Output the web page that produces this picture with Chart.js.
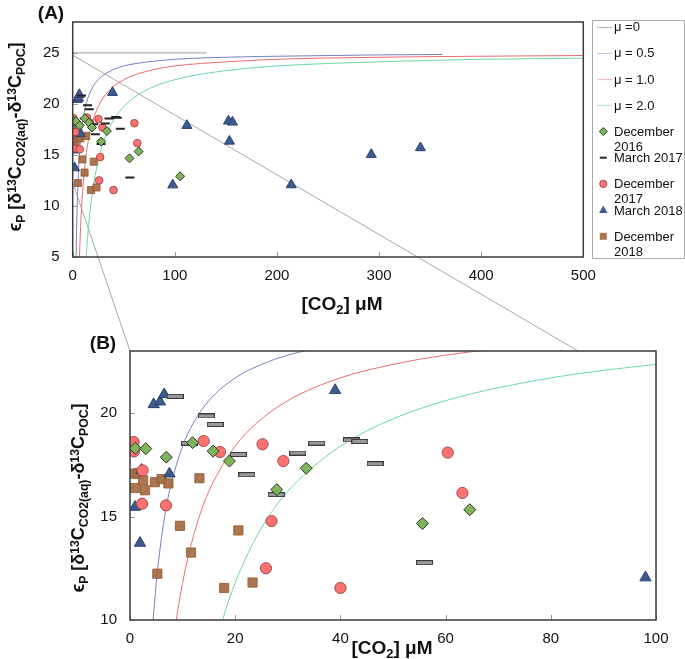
<!DOCTYPE html>
<html>
<head>
<meta charset="utf-8">
<script src="https://cdn.jsdelivr.net/npm/chart.js@4.4.0/dist/chart.umd.min.js"></script>
<style>
body { margin: 0; background: #fff; font-family: "Liberation Sans", Arial, sans-serif; }
#wrap { position: relative; width: 685px; height: 659px; overflow: hidden; }
#overlay { position: absolute; left: 0; top: 0; z-index: 0; }
#chartA { position: absolute; left: 0; top: 0; z-index: 1; }
#chartB { position: absolute; left: 0; top: 320px; z-index: 1; }
.lbl { position: absolute; z-index: 4; font-weight: bold; color: #111; white-space: nowrap; font-size: 19px; line-height: 19px; transform: translate(-50%, -50%); }
.ytitle { transform: translate(-50%, -50%) rotate(-90deg); font-size: 18px; }
.lbl sub, .lbl sup { font-size: 0.68em; line-height: 0; position: relative; vertical-align: baseline; }
.lbl sub { top: 0.3em; }
.lbl sup { top: -0.45em; }
#legend { position: absolute; left: 592px; top: 20px; width: 91px; height: 237px; border: 1px solid #aaa; background: #fff; z-index: 2; }
#legendmarks { position: absolute; left: 0; top: 0; z-index: 3; }
.legtext { position: absolute; left: 614px; width: 72px; font-size: 13px; line-height: 15px; color: #111; z-index: 3; }
</style>
</head>
<body>
<div id="wrap">
  <canvas id="overlay" width="685" height="659"></canvas>
  <canvas id="chartA" width="600" height="287"></canvas>
  <canvas id="chartB" width="670" height="330"></canvas>
  <div id="legend"></div>
  <canvas id="legendmarks" width="685" height="270"></canvas>
  <div class="lbl" style="left:51px; top:12px;">(A)</div>
  <div class="lbl" style="left:103px; top:342px;">(B)</div>
  <div class="lbl" style="left:342px; top:303px;">[CO<sub>2</sub>] μM</div>
  <div class="lbl" style="left:392px; top:647px;">[CO<sub>2</sub>] μM</div>
  <div class="lbl ytitle" style="left:15px; top:137px;">ϵ<sub>P</sub> [δ<sup>13</sup>C<sub>CO2(aq)</sub>-δ<sup>13</sup>C<sub>POC</sub>]</div>
  <div class="lbl ytitle" style="left:78px; top:498px;">ϵ<sub>P</sub> [δ<sup>13</sup>C<sub>CO2(aq)</sub>-δ<sup>13</sup>C<sub>POC</sub>]</div>
</div>
<script>
// model curves
const mu0_x = [0, 131];
const mu0_y = [25, 25];
const mu05_x = [3.3, 3.5, 4, 4.4, 5, 6, 7, 8, 10, 12, 15, 20, 25, 30, 40, 50, 70, 100, 150, 200, 300, 362];
const mu05_y = [5.0, 6.1, 8.5, 10.0, 11.8, 14.0, 15.6, 16.75, 18.4, 19.5, 20.6, 21.7, 22.35, 22.8, 23.35, 23.7, 24.05, 24.35, 24.55, 24.65, 24.78, 24.82];
const mu1_x = [6.6, 7, 8, 8.8, 10, 12, 14, 16, 20, 24, 30, 40, 50, 60, 80, 100, 150, 200, 300, 400, 500];
const mu1_y = [5.0, 6.1, 8.5, 10.0, 11.8, 14.0, 15.6, 16.75, 18.4, 19.5, 20.6, 21.7, 22.35, 22.8, 23.35, 23.7, 24.1, 24.35, 24.55, 24.65, 24.72];
const mu2_x = [13.2, 14, 16, 17.6, 20, 24, 28, 32, 40, 48, 60, 80, 100, 120, 160, 200, 300, 400, 500];
const mu2_y = [5.0, 6.1, 8.5, 10.0, 11.8, 14.0, 15.6, 16.75, 18.4, 19.5, 20.6, 21.7, 22.35, 22.8, 23.35, 23.7, 24.1, 24.35, 24.45];

// observations
const dec2016_x = [1.0, 3.0, 6.9, 11.9, 15.8, 18.9, 27.9, 33.5, 55.6, 64.6, 105.2];
const dec2016_y = [18.3, 18.28, 17.87, 18.57, 18.16, 17.68, 16.3, 17.33, 14.66, 15.33, 12.9];
const mar2017_x = [8.6, 14.5, 16.2, 11.3, 20.6, 22.2, 27.8, 31.9, 35.5, 42.1, 43.7, 46.6, 56.0];
const mar2017_y = [20.81, 19.86, 19.45, 18.55, 18.0, 17.02, 16.06, 18.07, 18.55, 18.7, 18.63, 17.55, 12.77];
const dec2017_x = [0.7, 0.75, 2.4, 2.3, 6.84, 14.0, 17.1, 25.2, 29.15, 26.9, 25.85, 40.0, 60.4, 63.2];
const dec2017_y = [18.6, 18.15, 17.23, 15.62, 15.54, 18.65, 18.12, 18.49, 17.68, 14.78, 12.5, 11.55, 18.09, 16.14];
const mar2018_x = [4.5, 5.7, 6.5, 2.2, 7.5, 0.95, 1.9, 39.0, 98.0, 111.8, 152.5, 153.5, 156.5, 214, 292.4, 340.5];
const mar2018_y = [20.42, 20.55, 20.9, 17.25, 17.07, 15.46, 13.72, 21.1, 12.05, 17.87, 18.3, 16.33, 18.2, 12.06, 15.03, 15.69];
const dec2018_x = [0.7, 1.5, 1.0, 2.5, 2.85, 4.75, 6.0, 7.3, 13.2, 9.5, 5.2, 11.6, 17.9, 20.6, 23.3];
const dec2018_y = [17.07, 17.1, 16.38, 16.75, 16.27, 16.66, 16.81, 16.6, 16.85, 14.55, 12.24, 13.26, 11.55, 14.33, 11.81];

const legend_labels = ['μ =0', 'μ = 0.5', 'μ = 1.0', 'μ = 2.0', 'December 2016', 'March 2017', 'December 2017', 'March 2018', 'December 2018'];

// zoom connector: [x in A, y in A, x in B, y in B]
const zoomlines = [[0, 24.75, 85.2, 23], [0, 12.3, 0, 23]];

const fontfam = '"Liberation Sans", Arial, sans-serif';

function pts(xs, ys) {
    return xs.map((x, i) => ({ x: x, y: ys[i] }));
}

function dashimage(w, h) {
    let c = document.createElement('canvas');
    c.width = w;
    c.height = h;
    let ctx = c.getContext('2d');
    ctx.fillStyle = '#9a9a9a';
    ctx.fillRect(0, 0, w, h);
    ctx.strokeStyle = '#3a3a3a';
    ctx.lineWidth = 1;
    ctx.strokeRect(0.5, 0.5, w - 1, h - 1);
    return c;
}

const frameplugin = {
    id: 'frame',
    afterDraw(chart) {
        const ctx = chart.ctx;
        const a = chart.chartArea;
        const sx = chart.scales.x, sy = chart.scales.y;
        ctx.save();
        ctx.strokeStyle = '#999';
        ctx.lineWidth = 1;
        sx.ticks.forEach(t => {
            let px = Math.round(sx.getPixelForValue(t.value)) + 0.5;
            ctx.beginPath();
            ctx.moveTo(px, a.bottom);
            ctx.lineTo(px, a.bottom - 5);
            ctx.stroke();
        });
        sy.ticks.forEach(t => {
            let py = Math.round(sy.getPixelForValue(t.value)) + 0.5;
            ctx.beginPath();
            ctx.moveTo(a.left, py);
            ctx.lineTo(a.left + 5, py);
            ctx.stroke();
        });
        ctx.strokeStyle = '#3a3a3a';
        ctx.lineWidth = 1.5;
        ctx.strokeRect(a.left, a.top, a.right - a.left, a.bottom - a.top);
        ctx.restore();
    }
};

function makechart(id, cfg) {
    const curve = { showLine: true, pointRadius: 0, borderWidth: 1, cubicInterpolationMode: 'monotone', order: 10 };
    const datasets = [
        Object.assign({}, curve, { label: legend_labels[0], data: pts(mu0_x, mu0_y), borderColor: '#c8c8c8', borderWidth: 2 }),
        Object.assign({}, curve, { label: legend_labels[1], data: pts(mu05_x, mu05_y), borderColor: '#7180c0' }),
        Object.assign({}, curve, { label: legend_labels[2], data: pts(mu1_x, mu1_y), borderColor: '#e96c6c' }),
        Object.assign({}, curve, { label: legend_labels[3], data: pts(mu2_x, mu2_y), borderColor: '#6cd8a2' }),
        {
            label: legend_labels[4], data: pts(dec2016_x, dec2016_y), pointStyle: 'rectRot',
            pointRadius: cfg.diamond, backgroundColor: '#80b45c', borderColor: '#2e3a24', borderWidth: 1, order: 1
        },
        {
            label: legend_labels[5], data: pts(mar2017_x, mar2017_y), pointStyle: cfg.dash,
            pointRadius: 4.5, backgroundColor: '#222', borderColor: '#222', borderWidth: 2, order: 2
        },
        {
            label: legend_labels[6], data: pts(dec2017_x, dec2017_y), pointStyle: 'circle',
            pointRadius: cfg.circle, backgroundColor: '#ff7272', borderColor: '#a14a4a', borderWidth: 1, order: 3
        },
        {
            label: legend_labels[7], data: pts(mar2018_x, mar2018_y), pointStyle: 'triangle',
            pointRadius: cfg.triangle, backgroundColor: '#3e5a8e', borderColor: '#2b416b', borderWidth: 1, order: 4
        },
        {
            label: legend_labels[8], data: pts(dec2018_x, dec2018_y), pointStyle: 'rect',
            pointRadius: cfg.square, backgroundColor: 'rgba(164,106,64,0.92)', borderColor: 'rgba(150,95,58,0.9)', borderWidth: 1, order: 5
        }
    ];
    return new Chart(document.getElementById(id), {
        type: 'scatter',
        data: { datasets: datasets },
        options: {
            responsive: false,
            animation: false,
            layout: { padding: cfg.padding },
            plugins: { legend: { display: false }, tooltip: { enabled: false } },
            scales: {
                x: {
                    type: 'linear', min: 0, max: cfg.xmax,
                    border: { display: false },
                    grid: { display: false, drawTicks: false },
                    ticks: { stepSize: cfg.xstep, padding: 10, maxRotation: 0, color: '#111', font: { size: 15, family: fontfam } },
                    afterFit: s => { s.height = 30; s.paddingLeft = 0; s.paddingRight = 0; }
                },
                y: {
                    type: 'linear', min: cfg.ymin, max: cfg.ymax,
                    border: { display: false },
                    grid: { display: false, drawTicks: false },
                    ticks: { stepSize: 5, includeBounds: false, padding: 13, color: '#111', font: { size: 15, family: fontfam } },
                    afterFit: s => { s.width = cfg.left; s.paddingTop = 0; s.paddingBottom = 0; }
                }
            }
        },
        plugins: [frameplugin]
    });
}

const chartA = makechart('chartA', {
    xmax: 500, xstep: 100, ymin: 5, ymax: 28, left: 72.7,
    padding: { top: 22, right: 16.7, bottom: 0, left: 0 },
    diamond: 4.5, dash: 'line', circle: 3.8, triangle: 5.8, square: 5
});
const chartB = makechart('chartB', {
    xmax: 100, xstep: 20, ymin: 10, ymax: 23, left: 130,
    padding: { top: 31, right: 14, bottom: 0, left: 0 },
    diamond: 6, dash: dashimage(17, 5), circle: 5.6, triangle: 6.5, square: 6.5
});

function drawzoomlines() {
    const ctx = document.getElementById('overlay').getContext('2d');
    const topB = 320;
    ctx.strokeStyle = '#a8a8a8';
    ctx.lineWidth = 1;
    zoomlines.forEach(z => {
        ctx.beginPath();
        ctx.moveTo(chartA.scales.x.getPixelForValue(z[0]), chartA.scales.y.getPixelForValue(z[1]));
        ctx.lineTo(chartB.scales.x.getPixelForValue(z[2]), topB + chartB.scales.y.getPixelForValue(z[3]));
        ctx.stroke();
    });
}

function drawmarker(ctx, ds, x, y) {
    ctx.fillStyle = ds.backgroundColor;
    ctx.strokeStyle = ds.borderColor;
    ctx.lineWidth = 1;
    ctx.beginPath();
    if (ds.pointStyle === 'rectRot') {
        ctx.moveTo(x, y - 4); ctx.lineTo(x + 4, y); ctx.lineTo(x, y + 4); ctx.lineTo(x - 4, y); ctx.closePath();
        ctx.fill(); ctx.stroke();
    } else if (ds.pointStyle === 'circle') {
        ctx.arc(x, y, 3.6, 0, Math.PI * 2);
        ctx.fill(); ctx.stroke();
    } else if (ds.pointStyle === 'triangle') {
        ctx.moveTo(x, y - 4.5); ctx.lineTo(x + 4.2, y + 3); ctx.lineTo(x - 4.2, y + 3); ctx.closePath();
        ctx.fill();
    } else if (ds.pointStyle === 'rect') {
        ctx.fillRect(x - 3.5, y - 3.5, 7, 7);
    } else {
        ctx.lineWidth = 2;
        ctx.moveTo(x - 3.5, y); ctx.lineTo(x + 3.5, y);
        ctx.stroke();
    }
}

function buildlegend() {
    const ctx = document.getElementById('legendmarks').getContext('2d');
    const wrap = document.getElementById('wrap');
    const legcolors = ['#b8b8b8', '#c3c8e8', '#f4bcbc', '#b4ecd0'];
    chartA.data.datasets.forEach((ds, i) => {
        let cy = 26.7 + 26.2 * i;
        if (i < 4) {
            ctx.strokeStyle = legcolors[i];
            ctx.lineWidth = 1.2;
            ctx.beginPath();
            ctx.moveTo(597, Math.round(cy) + 0.5);
            ctx.lineTo(612, Math.round(cy) + 0.5);
            ctx.stroke();
        } else {
            drawmarker(ctx, ds, 603.3, cy);
        }
        let t = document.createElement('div');
        t.className = 'legtext';
        t.style.top = (cy - 7.5) + 'px';
        t.textContent = ds.label;
        wrap.appendChild(t);
    });
}

drawzoomlines();
buildlegend();
</script>
</body>
</html>
